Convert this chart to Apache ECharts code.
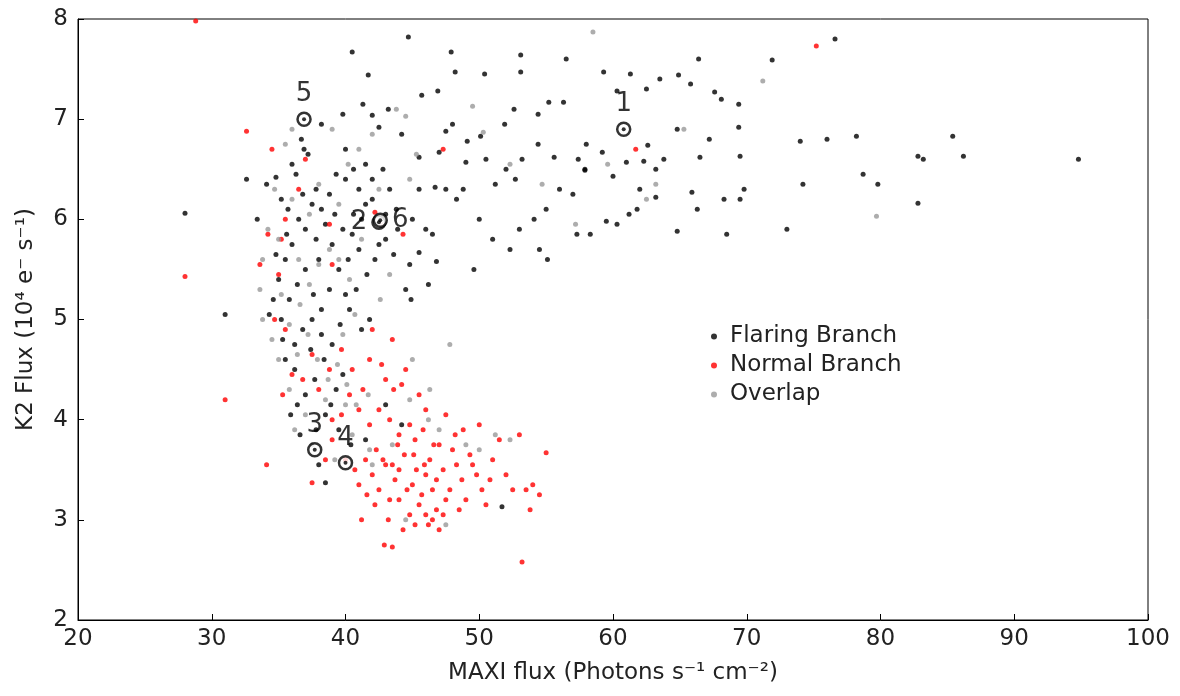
<!DOCTYPE html>
<html>
<head>
<meta charset="utf-8">
<script src="https://cdn.jsdelivr.net/npm/echarts@6/dist/echarts.min.js"></script>
<style>html,body{margin:0;padding:0;background:#fff}#chart{width:1180px;height:696px}</style>
</head>
<body>
<div id="chart"></div>
<script>
// data: [MAXI flux, K2 flux]
var flaring = [
 [40.5,7.67],[44.7,7.82],[47.9,7.67],[48.2,7.47],[50.4,7.45],[53.1,7.64],[53.1,7.47],[56.5,7.6],[59.3,7.47],[61.3,7.45],[63.5,7.4],[64.9,7.44],[66.4,7.6],[67.6,7.27],[68.1,7.2],[69.4,7.15],[71.9,7.59],[76.6,7.8],[65.8,7.35],[60.3,7.28],[62.5,7.3],[55.2,7.17],[56.3,7.17],[54.4,7.05],[52.6,7.1],[51.9,6.95],[50.1,6.83],[49.1,6.78],[47.5,6.88],[46.9,7.28],[45.7,7.24],[43.2,7.1],[42.0,7.04],[41.3,7.15],[39.8,7.05],[38.2,6.95],[42.5,6.92],[44.2,6.85],[45.5,6.62],[47.0,6.67],[49.0,6.57],[50.5,6.6],[52.0,6.5],[53.2,6.6],[54.4,6.75],[55.6,6.62],[57.4,6.6],[57.0,6.25],[57.9,6.49],[59.2,6.67],[60.0,6.43],[61.0,6.57],[62.3,6.58],[63.2,6.5],[63.8,6.6],[64.8,6.9],[66.5,6.62],[67.2,6.8],[69.4,6.92],[69.5,6.63],[69.8,6.3],[69.5,6.2],[68.3,6.2],[66.3,6.1],[65.9,6.27],[64.8,5.88],[63.2,6.22],[62.0,6.3],[61.2,6.05],[60.3,5.95],[59.5,5.98],[58.3,5.85],[57.3,5.85],[56.0,6.3],[55.0,6.1],[54.1,6.0],[53.0,5.9],[52.3,5.7],[51.0,5.8],[50.0,6.0],[49.6,5.5],[48.3,6.2],[47.5,6.3],[46.7,6.32],[73.0,5.9],[74.0,6.78],[74.2,6.35],[76.0,6.8],[78.2,6.83],[78.7,6.45],[79.8,6.35],[82.8,6.63],[83.2,6.6],[85.4,6.83],[86.2,6.63],[94.8,6.6],[82.8,6.16],[55.1,5.6],[54.5,5.7],[68.5,5.85],[61.8,6.1],[57.9,6.5],[58.0,6.75],[62.6,6.74],[48.0,6.95],[45.5,6.3],[48.8,6.3],[51.2,6.35],[52.7,6.4],[45.0,6.0],[46.0,5.9],[46.5,5.85],[45.5,5.67],[44.8,5.55],[44.5,5.3],[44.9,5.2],[46.8,5.58],[46.2,5.35],
 [28.0,6.06],[31.0,5.05],[32.6,6.4],[33.4,6.0],[34.1,6.35],[34.8,6.42],[35.2,6.2],[35.7,6.1],[36.0,6.55],[36.3,6.45],[36.7,6.8],[37.2,6.65],[37.8,6.3],[38.2,6.1],[38.8,6.25],[39.3,6.45],[40.0,6.4],[40.6,6.5],[41.0,6.3],[41.5,6.55],[42.0,6.4],[42.8,6.5],[43.3,6.3],[43.8,6.1],[43.0,6.05],[42.0,6.2],[41.2,6.0],[40.5,5.85],[39.8,5.9],[39.0,5.75],[38.5,5.95],[37.8,5.8],[37.0,5.9],[36.5,6.0],[36.0,5.75],[35.5,5.6],[35.0,5.4],[34.6,5.2],[34.3,5.05],[35.2,5.0],[35.8,5.2],[36.4,5.35],[37.0,5.5],[37.6,5.25],[38.2,5.1],[38.8,5.3],[39.5,5.5],[40.2,5.6],[41.0,5.7],[41.6,5.45],[42.2,5.6],[43.0,5.8],[43.6,5.65],[40.8,5.3],[40.3,5.1],[39.6,4.95],[39.0,4.75],[38.4,4.6],[37.7,4.4],[37.0,4.25],[36.4,4.15],[35.9,4.05],[35.5,4.6],[36.2,4.75],[36.8,4.9],[37.5,5.0],[38.2,4.85],[41.2,4.9],[41.8,5.0],[39.3,4.3],[38.5,4.05],[37.8,3.9],[36.6,3.85],[38.0,3.55],[38.5,3.37],[39.5,3.9],[40.4,3.75],[41.5,3.8],[43.0,4.15],[44.2,3.95],[51.7,3.13],[36.9,6.7],[41.7,7.44],[40.0,6.7],
 [34.8,5.65],[35.6,5.85],[36.8,6.25],[37.5,6.15],[38.0,5.6],[39.2,6.05],[40.0,5.25],[41.5,6.15],[42.5,5.75],[43.9,5.9],[36.2,4.5],[37.4,4.7],[38.9,4.15],[39.8,4.45],[35.3,4.8],[40.6,6.05]
];
var normal = [
 [28.8,7.98],[28.0,5.43],[31.0,4.2],[32.6,6.88],[34.1,3.55],[34.5,6.7],[35.5,6.0],[35.2,5.8],[36.5,6.3],[37.0,6.6],[38.8,5.95],[39.0,5.55],[35.0,5.45],[34.7,5.0],[35.5,4.9],[36.0,4.45],[35.3,4.25],[36.8,4.4],[37.5,4.65],[38.0,4.3],[38.8,4.5],[39.7,4.7],[40.5,4.5],[41.3,4.3],[41.8,4.6],[42.0,4.9],[42.7,4.55],[43.0,4.4],[43.6,4.3],[44.5,4.5],[45.5,4.25],[46.0,4.1],[44.2,4.35],[43.3,4.0],[42.5,4.1],[41.8,3.95],[41.0,4.1],[40.3,4.25],[39.7,4.05],[39.0,3.8],[38.5,3.6],[37.5,3.37],[40.7,3.5],[41.5,3.6],[42.3,3.7],[43.0,3.55],[43.7,3.4],[44.4,3.65],[45.2,3.8],[45.9,3.55],[46.5,3.3],[47.3,3.5],[48.0,3.7],[48.7,3.4],[49.5,3.55],[50.2,3.3],[51.0,3.6],[52.0,3.45],[53.0,3.85],[53.5,3.3],[54.0,3.35],[54.5,3.25],[55.0,3.67],[53.2,2.58],[42.9,2.75],[43.5,2.73],[41.2,3.0],[44.0,3.2],[44.8,3.05],[45.5,3.15],[46.2,2.95],[46.8,3.1],[47.5,3.2],[45.0,3.35],[42.5,3.3],[43.3,3.2],[46.0,3.45],[47.0,3.75],[48.5,3.1],[50.8,3.4],[51.5,3.8],[44.0,3.85],[45.8,3.9],[47.5,4.05],[48.8,3.9],[50.0,3.95],[53.8,3.1],[75.2,7.73],[61.7,6.7],[47.3,6.7],[44.3,5.85],[42.2,6.07],[42.7,5.95],[33.6,5.55],[34.2,5.85],[40.0,3.6],[39.0,4.0],[43.5,4.8],[41.0,3.35],[46.5,3.0],[47.0,2.9],
 [42.0,3.45],[42.8,3.6],[43.5,3.55],[44.0,3.5],[44.6,3.3],[45.3,3.5],[45.7,3.25],[46.3,3.6],[46.8,3.4],[47.8,3.3],[48.3,3.55],[49.0,3.2],[49.8,3.45],[43.2,3.0],[44.3,2.9],[45.2,2.95],[46.0,3.05],[47.3,3.05],[42.2,3.15],[43.9,3.75],[45.1,3.65],[46.6,3.75],[48.2,3.85],[49.3,3.65],[41.6,3.25],[44.8,3.95],[50.5,3.15],[52.5,3.3]
];
var overlap = [
 [58.5,7.87],[71.2,7.38],[79.7,6.03],[63.2,6.35],[49.5,7.13],[52.3,6.55],[50.3,6.87],[54.7,6.35],[57.2,5.95],[62.5,6.2],[59.6,6.55],[65.3,6.9],[43.8,7.1],[44.5,7.03],[45.3,6.65],[44.8,6.4],[42.0,6.85],[41.0,6.7],[40.2,6.55],[39.0,6.9],[36.0,6.9],[35.5,6.75],[34.7,6.3],[34.2,5.9],[33.8,5.6],[33.6,5.3],[33.8,5.0],[34.5,4.8],[35.0,4.6],[35.8,4.3],[36.4,4.65],[35.8,4.95],[36.6,5.15],[37.3,5.35],[38.0,5.55],[38.8,5.7],[39.5,5.6],[40.3,5.4],[37.2,4.85],[37.9,4.6],[38.7,4.4],[39.4,4.55],[40.1,4.35],[40.8,4.15],[40.0,4.15],[38.5,4.2],[37.0,4.05],[36.2,3.9],[37.5,3.75],[39.2,3.6],[40.5,3.85],[41.8,3.7],[43.5,3.75],[44.8,4.2],[46.2,4.0],[47.0,3.9],[49.0,3.75],[50.0,3.7],[51.2,3.85],[52.3,3.8],[47.8,4.75],[45.0,4.6],[46.3,4.3],[42.6,5.2],[43.3,5.45],[41.2,5.8],[42.5,6.3],[39.5,6.15],[38.0,6.35],[37.3,6.05],[36.5,5.6],[35.0,5.8],[40.7,5.05],[39.8,4.85],[41.7,4.25],[47.5,2.95],[44.5,3.0],[42.0,3.55],[35.2,5.25],[36.0,6.2]
];
// marked epochs
var marks = [
 {name:'1', value:[60.8,6.9], pos:'top'},
 {name:'2', value:[42.5,5.97], pos:'left'},
 {name:'3', value:[37.7,3.7], pos:'top'},
 {name:'4', value:[40.0,3.57], pos:'top'},
 {name:'5', value:[36.9,7.0], pos:'top'},
 {name:'6', value:[42.6,5.99], pos:'right'}
];

var font = '"DejaVu Sans", sans-serif';
var chart = echarts.init(document.getElementById('chart'));
var option = {
  animation: false,
  textStyle: {fontFamily: font},
  grid: {left: 78, right: 32, top: 19, bottom: 76, show: true, borderColor: '#000', borderWidth: 1},
  legend: {
    orient: 'vertical', left: 706, top: 320, itemGap: 6, itemWidth: 6, itemHeight: 6,
    textStyle: {fontSize: 23, color: '#222', fontFamily: font, padding: [0, 0, 0, 8]},
    data: ['Flaring Branch', 'Normal Branch', 'Overlap']
  },
  xAxis: {
    type: 'value', min: 20, max: 100, interval: 10,
    name: 'MAXI flux (Photons s⁻¹ cm⁻²)', nameLocation: 'middle', nameGap: 42,
    nameTextStyle: {fontSize: 23, color: '#222'},
    axisLine: {lineStyle: {color: '#000'}},
    axisTick: {inside: true, length: 6, lineStyle: {color: '#000'}},
    axisLabel: {fontSize: 23, color: '#222', margin: 8},
    splitLine: {show: false}
  },
  yAxis: {
    type: 'value', min: 2, max: 8, interval: 1,
    name: 'K2 Flux (10⁴ e⁻ s⁻¹)', nameLocation: 'middle', nameGap: 40,
    nameTextStyle: {fontSize: 23, color: '#222'},
    axisLine: {lineStyle: {color: '#000'}},
    axisTick: {inside: true, length: 6, lineStyle: {color: '#000'}},
    axisLabel: {fontSize: 23, color: '#222', margin: 10},
    splitLine: {show: false}
  },
  series: [
    {name: 'Flaring Branch', type: 'scatter', data: flaring, symbolSize: 5, itemStyle: {color: '#000'}},
    {name: 'Normal Branch', type: 'scatter', data: normal, symbolSize: 5, itemStyle: {color: '#ff0000'}},
    {name: 'Overlap', type: 'scatter', data: overlap, symbolSize: 5, itemStyle: {color: '#999'}},
    {name: 'marks', type: 'scatter', z: 5, symbolSize: 13,
     itemStyle: {color: '#fff', borderColor: '#000', borderWidth: 2.5},
     data: marks.map(function (m) {
       return {name: m.name, value: m.value,
               label: {show: true, formatter: m.name, position: m.pos, distance: 4,
                       fontSize: 26, color: '#000', fontFamily: font}};
     })},
    {name: 'centres', type: 'scatter', z: 6, symbolSize: 4, silent: true,
     itemStyle: {color: '#000'}, data: marks.map(function (m) { return m.value; })}
  ]
};
chart.setOption(option);
</script>
</body>
</html>
